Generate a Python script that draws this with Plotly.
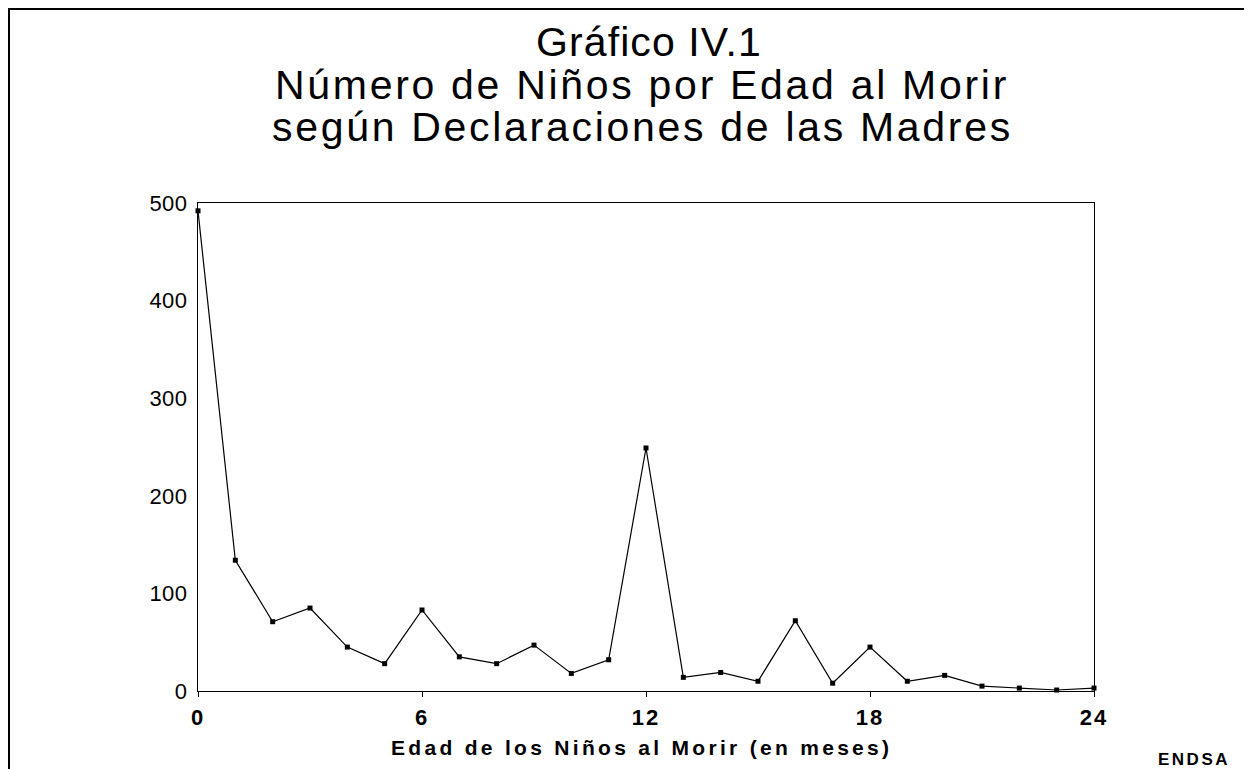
import plotly.graph_objects as go

# Data
edad_meses = list(range(0, 25))
ninos = [492, 134, 71, 85, 45, 28, 83, 35, 28, 47, 18, 32, 249,
         14, 19, 10, 72, 8, 45, 10, 16, 5, 3, 1, 3]
x_ticks = [0, 6, 12, 18, 24]
y_ticks = [0, 100, 200, 300, 400, 500]

title_lines = ["Gráfico IV.1",
               "Número de Niños por Edad al Morir",
               "según Declaraciones de las Madres"]
title_y_page = [42, 85, 127]
title_x_page = [649, 642, 642]
title_ls = [1.1, 2.7, 2.7]
x_title = "Edad de los Niños al Morir (en meses)"
source = "ENDSA"

# The page body adds an 8px offset; figure coords = page coords - 8
OFF = 8
W, H = 1252 - OFF, 769 - OFF
L, R, T, B = 198 - OFF, 1094 - OFF, 203 - OFF, 691 - OFF


def px_x(p):
    return (p - OFF - L) / (R - L)


def px_y(p):
    return (B - (p - OFF)) / (B - T)


def sp(text, ls):
    return f'<span style="letter-spacing:{ls}px">{text}</span>'


FONT = "Liberation Sans, Arial, sans-serif"

fig = go.Figure()
fig.add_trace(go.Scatter(
    x=edad_meses, y=ninos, mode="lines+markers",
    line=dict(color="black", width=1.2),
    marker=dict(color="black", size=5, symbol="square"),
    cliponaxis=False, showlegend=False,
))

fig.update_layout(
    width=W, height=H,
    margin=dict(l=L, r=W - R, t=T, b=H - B),
    paper_bgcolor="white", plot_bgcolor="white",
    font=dict(family=FONT, color="black"),
    xaxis=dict(range=[0, 24], tickvals=x_ticks,
               ticktext=[sp(f"<b>{v}</b>", 2) for v in x_ticks],
               showgrid=False, zeroline=False,
               showline=True, mirror=True, linecolor="black", linewidth=1,
               ticks="outside", ticklen=5, tickcolor="black",
               ticklabelstandoff=2,
               tickfont=dict(size=22, family=FONT), fixedrange=True),
    yaxis=dict(range=[0, 500], tickvals=y_ticks,
               ticktext=[sp(str(v), 0.5) for v in y_ticks],
               showgrid=False, zeroline=False,
               showline=True, mirror=True, linecolor="black", linewidth=1,
               ticks="", ticklabelstandoff=5,
               tickfont=dict(size=22, family=FONT), fixedrange=True),
)

for line, xp, yp, ls in zip(title_lines, title_x_page, title_y_page, title_ls):
    fig.add_annotation(
        text=sp(line, ls),
        xref="paper", yref="paper", x=px_x(xp), y=px_y(yp),
        xanchor="center", yanchor="middle", showarrow=False,
        font=dict(size=41, family=FONT, color="black"), align="center",
    )
fig.add_annotation(
    text=sp(f"<b>{x_title}</b>", 3.3),
    xref="paper", yref="paper", x=px_x(641), y=px_y(747),
    xanchor="center", yanchor="middle", showarrow=False,
    font=dict(size=21, family=FONT, color="black"),
)
fig.add_annotation(
    text=sp(f"<b>{source}</b>", 2.5),
    xref="paper", yref="paper", x=px_x(1194), y=px_y(759),
    xanchor="center", yanchor="middle", showarrow=False,
    font=dict(size=17, family=FONT, color="black"),
)

# outer page frame (left and top edges)
fig.add_shape(
    type="path", xref="paper", yref="paper",
    path=f"M {px_x(8.5)} {px_y(770)} L {px_x(8.5)} {px_y(8.5)} L {px_x(1252)} {px_y(8.5)}",
    line=dict(color="black", width=3),
)

fig.write_html("out.html")
